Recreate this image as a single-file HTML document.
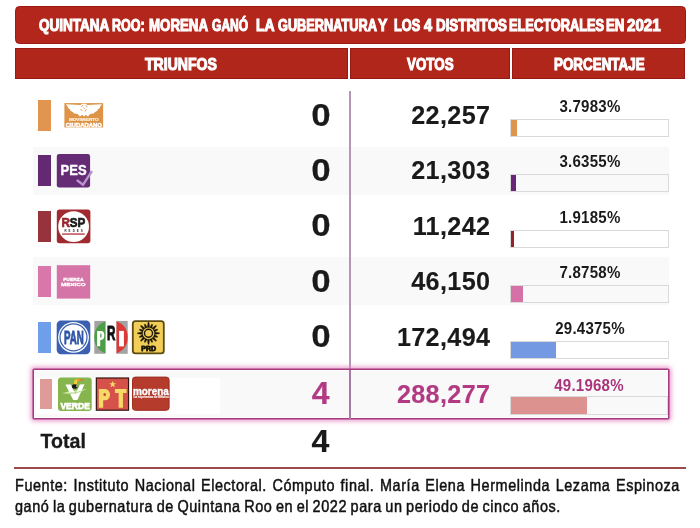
<!DOCTYPE html>
<html>
<head>
<meta charset="utf-8">
<title>Quintana Roo 2021</title>
<style>
html,body{margin:0;padding:0;background:#fff;}
body{width:700px;height:528px;position:relative;overflow:hidden;font-family:"Liberation Sans",sans-serif;color:#1a1a1a;}
.abs{position:absolute;}
.banner{left:15px;top:6px;width:669px;height:36px;background:#b3261c;border:1px solid #9b1b13;border-radius:4.5px;}
.hd{top:48px;height:31px;background:#b0261b;box-shadow:inset 0 0 0 1px #961a12;}
.cond{position:absolute;white-space:nowrap;color:#fff;font-weight:bold;transform-origin:0 0;-webkit-text-stroke:1.3px #fff;}
.tw{top:15.6px;font-size:17px;line-height:20px;-webkit-text-stroke:1.15px #fff;}
.band{left:32.7px;width:636.3px;height:47.6px;background:#f9f9f9;}
.sw{left:38px;width:13px;height:31px;}
.num{position:absolute;white-space:nowrap;font-weight:bold;font-size:25.2px;line-height:26px;letter-spacing:0.35px;text-align:right;-webkit-text-stroke:0.12px currentColor;}
.tri{letter-spacing:0;font-size:32px;line-height:30px;transform:scaleX(1.0);transform-origin:50% 0;-webkit-text-stroke:0.2px currentColor;}
.pct{position:absolute;white-space:nowrap;font-weight:bold;font-size:16px;line-height:15px;letter-spacing:0.25px;transform:scaleX(0.94);transform-origin:50% 0;left:510px;width:160px;text-align:center;}
.bar{left:510.3px;width:158.5px;height:18.4px;border:1.5px solid #d9d9d9;box-sizing:border-box;}
.bar i{position:absolute;left:0;top:0;bottom:0;display:block;}
.vline{left:349px;top:90.5px;width:2px;height:279px;background:#b596b6;}
.foot{position:absolute;left:14.5px;top:474px;font-size:16.5px;-webkit-text-stroke:0.5px #111;line-height:20px;white-space:nowrap;color:#111;transform-origin:0 0;}
</style>
</head>
<body>
<div id="wrap" style="position:absolute;left:0;top:0;width:700px;height:528px;will-change:transform;">

<!-- title banner -->
<div class="abs banner"></div>
<!--TITLE_START-->
<div class="cond tw" style="left:38.78px;transform:scaleX(0.7945);">QUINTANA</div>
<div class="cond tw" style="left:112.32px;transform:scaleX(0.7349);">ROO:</div>
<div class="cond tw" style="left:148.57px;transform:scaleX(0.7807);">MORENA</div>
<div class="cond tw" style="left:211.52px;transform:scaleX(0.7101);">GAN&Oacute;</div>
<div class="cond tw" style="left:255.73px;transform:scaleX(0.8179);">LA</div>
<div class="cond tw" style="left:277.90px;transform:scaleX(0.7494);">GUBERNATURA</div>
<div class="cond tw" style="left:377.88px;transform:scaleX(0.8264);">Y</div>
<div class="cond tw" style="left:394.31px;transform:scaleX(0.7477);">LOS</div>
<div class="cond tw" style="left:424.20px;transform:scaleX(0.8575);">4</div>
<div class="cond tw" style="left:435.97px;transform:scaleX(0.7856);">DISTRITOS</div>
<div class="cond tw" style="left:509.10px;transform:scaleX(0.7535);">ELECTORALES</div>
<div class="cond tw" style="left:606.37px;transform:scaleX(0.7792);">EN</div>
<div class="cond tw" style="left:627.33px;transform:scaleX(0.8870);">2021</div>
<!--TITLE_END-->

<!-- header cells -->
<div class="abs hd" style="left:15px;width:333px;"></div>
<div class="abs hd" style="left:350px;width:160px;"></div>
<div class="abs hd" style="left:512px;width:173px;"></div>
<div class="cond" id="h1" style="left:145.40px;top:54.8px;font-size:17px;line-height:20px;-webkit-text-stroke:1.15px #fff;transform:scaleX(0.8272);">TRIUNFOS</div>
<div class="cond" id="h2" style="left:407.30px;top:54.8px;font-size:17px;line-height:20px;-webkit-text-stroke:1.15px #fff;transform:scaleX(0.7863);">VOTOS</div>
<div class="cond" id="h3" style="left:554.26px;top:54.8px;font-size:17px;line-height:20px;-webkit-text-stroke:1.15px #fff;transform:scaleX(0.7883);">PORCENTAJE</div>

<!-- row bands -->
<div class="abs band" style="top:147px;"></div>
<div class="abs band" style="top:257.3px;"></div>

<!-- vertical separator -->
<div class="abs vline"></div>

<!-- ROWS inserted below -->
<div class="abs sw" style="top:100.0px;background:#e29550;"></div>
<div class="num tri" style="right:370.4px;top:99.6px;transform:scaleX(1.09);">0</div>
<div class="num" style="right:209.6px;top:102.2px;">22,257</div>
<div class="pct" style="top:99.2px;">3.7983%</div>
<div class="abs bar" style="top:118.8px;"><i style="width:5.6px;background:#e0954d;"></i></div>
<div class="abs sw" style="top:155.0px;background:#632a72;"></div>
<div class="num tri" style="right:370.4px;top:154.6px;transform:scaleX(1.09);">0</div>
<div class="num" style="right:209.6px;top:157.2px;">21,303</div>
<div class="pct" style="top:154.2px;">3.6355%</div>
<div class="abs bar" style="top:173.8px;"><i style="width:4.9px;background:#6a2478;"></i></div>
<div class="abs sw" style="top:210.7px;background:#97333a;"></div>
<div class="num tri" style="right:370.4px;top:210.3px;transform:scaleX(1.09);">0</div>
<div class="num" style="right:209.6px;top:212.9px;">11,242</div>
<div class="pct" style="top:209.9px;">1.9185%</div>
<div class="abs bar" style="top:229.5px;"><i style="width:2.7px;background:#96222c;"></i></div>
<div class="abs sw" style="top:266.2px;background:#d977ab;"></div>
<div class="num tri" style="right:370.4px;top:265.8px;transform:scaleX(1.09);">0</div>
<div class="num" style="right:209.6px;top:268.4px;">46,150</div>
<div class="pct" style="top:265.4px;">7.8758%</div>
<div class="abs bar" style="top:285.0px;"><i style="width:11.7px;background:#d571a6;"></i></div>
<div class="abs sw" style="top:321.7px;background:#6f9fea;"></div>
<div class="num tri" style="right:370.4px;top:321.3px;transform:scaleX(1.09);">0</div>
<div class="num" style="right:209.6px;top:323.9px;">172,494</div>
<div class="pct" style="top:320.9px;">29.4375%</div>
<div class="abs bar" style="top:340.5px;"><i style="width:44.8px;background:#7299e2;"></i></div>
<!-- highlighted row -->
<div class="abs" id="hl" style="left:33.2px;top:369px;width:635.5px;height:50px;box-sizing:border-box;border:1px solid #a43b83;border-radius:1px;background:#f9f9f9;box-shadow:0 0 0 0.55px #a43b83, 0 0 5px 2px rgba(232,130,192,0.85), inset 0 0 0 1px #fdfdfd;"></div>
<div class="abs" style="left:36px;top:377.5px;width:184px;height:36.5px;background:#fff;"></div>
<div class="abs" style="left:349px;top:370px;width:2px;height:48.5px;background:#a87aa4;"></div>
<div class="abs" style="left:39.8px;top:378.6px;width:12.2px;height:30.6px;background:#de9b98;"></div>
<div class="num tri" style="right:370.4px;top:378.3px;color:#b23a82;">4</div>
<div class="num" style="right:209.6px;top:381px;color:#b23a82;">288,277</div>
<div class="pct" style="top:378.0px;color:#a9347b;left:509px;">49.1968%</div>
<div class="abs bar" style="top:396.4px;left:509.5px;"><i style="width:76px;background:#dc928e;"></i></div>
<!-- total -->
<div class="abs" id="total" style="left:40.5px;top:429px;font-weight:bold;font-size:19.6px;line-height:24px;-webkit-text-stroke:0.3px #1a1a1a;">Total</div>
<div class="num tri" style="right:370.6px;top:426px;">4</div>
<!--LOGOS_START-->
<svg class="abs" style="left:0;top:0;" width="700" height="528" viewBox="0 0 700 528" font-family="Liberation Sans, sans-serif" font-weight="bold">
<defs>
<clipPath id="priL"><rect x="94.3" y="320.9" width="11.2" height="32.9"/></clipPath>
<clipPath id="priR"><rect x="116.5" y="320.9" width="11.2" height="32.9"/></clipPath>
<linearGradient id="beak" x1="0" y1="0" x2="1" y2="0"><stop offset="0" stop-color="#f0b030"/><stop offset="0.5" stop-color="#ee8a28"/><stop offset="1" stop-color="#d8452a"/></linearGradient>
</defs>

<!-- Movimiento Ciudadano -->
<g id="mc">
<rect x="64.4" y="103.1" width="38.7" height="24.3" fill="#dd9447"/>
<path d="M65.8,104.2 L80.6,105 L81.8,103.8 L86,103.8 L87.2,105 L102,104.2 L99.6,107.2 L100.4,107.6 L97.2,110 L97.8,110.6 L94.2,112.4 L94.4,113.2 L90.2,114 L88,116.4 L85.4,114.8 L84,116.8 L82.4,114.8 L79.8,116.4 L77.6,114 L73.4,113.2 L73.6,112.4 L70,110.6 L70.6,110 L67.4,107.6 L68.2,107.2 Z" fill="#fff"/>
<path d="M81.4,106.6 l1.8,-1.5 M85.9,105.3 l1.3,2 M80.4,109.4 l2.2,1.5 M86.4,109.2 l-1.5,2.4 M83.2,107.6 l1.4,1" stroke="#dd9447" stroke-width="0.9" fill="none"/>
<text x="68.9" y="120.9" font-size="3.4" fill="#fdf1e4" stroke="#fdf1e4" stroke-width="0.15" textLength="29.8" lengthAdjust="spacingAndGlyphs">MOVIMIENTO</text>
<text x="65.8" y="126.75" font-size="5.2" fill="#fff" stroke="#fff" stroke-width="0.4" textLength="36" lengthAdjust="spacingAndGlyphs">CIUDADANO</text>
</g>

<!-- PES -->
<g id="pes">
<rect x="56.8" y="154" width="33.3" height="33.6" rx="2.4" fill="#652b74"/>
<text x="60.6" y="175.4" font-size="15.4" fill="#fff" stroke="#fff" stroke-width="0.4" textLength="26" lengthAdjust="spacingAndGlyphs">PES</text>
<path d="M76.8,180 L83,184.8 L92,171" stroke="#b893cc" stroke-width="2.4" fill="none" stroke-linejoin="miter"/>
</g>

<!-- RSP -->
<g id="rsp">
<rect x="56.8" y="209.4" width="33.6" height="33.8" rx="2.6" fill="#a02a30"/>
<circle cx="73.6" cy="226.6" r="15.4" fill="#fff"/>
<text x="61.4" y="227.2" font-size="12.8" textLength="24" lengthAdjust="spacingAndGlyphs" fill="#1c1c1c" stroke="#1c1c1c" stroke-width="0.7"><tspan fill="#9a262c" stroke="#9a262c">R</tspan>SP</text>
<text x="64.4" y="232.3" font-size="2.9" fill="#222" textLength="18.4" lengthAdjust="spacing">REDES</text>
<rect x="62" y="233.4" width="22.8" height="1.3" fill="#b5333c"/>
</g>

<!-- Fuerza por Mexico -->
<g id="fxm">
<rect x="56.8" y="265.2" width="33.4" height="33.4" fill="#d574a6"/>
<text x="63.2" y="280.7" font-size="4.3" fill="#fff" stroke="#fff" stroke-width="0.3" textLength="20.4" lengthAdjust="spacingAndGlyphs">FUERZA</text>
<text x="61" y="286.1" font-size="4.3" fill="#fff" stroke="#fff" stroke-width="0.3" textLength="24.6" lengthAdjust="spacingAndGlyphs">ME&#x2715;ICO</text>
</g>

<!-- PAN -->
<g id="pan">
<rect x="56.7" y="320.4" width="33.6" height="33.9" rx="4.2" fill="#3b60b2"/>
<circle cx="73.5" cy="337.3" r="15.4" fill="#fff"/>
<circle cx="73.5" cy="337.3" r="13.5" fill="none" stroke="#3b60b2" stroke-width="1.25"/>
<text x="63.9" y="343.5" font-size="17.6" fill="#2f55a8" stroke="#2f55a8" stroke-width="0.9" textLength="19.8" lengthAdjust="spacingAndGlyphs">PAN</text>
</g>

<!-- PRI -->
<g id="pri">
<rect x="94.3" y="320.9" width="11.2" height="32.9" fill="#a3a3a3"/>
<rect x="105.5" y="320.9" width="11" height="32.9" fill="#fff"/>
<rect x="116.5" y="320.9" width="11.2" height="32.9" fill="#a3a3a3"/>
<circle cx="111" cy="337.35" r="17" fill="#4e9d48" clip-path="url(#priL)"/>
<circle cx="111" cy="337.35" r="17" fill="#d93a36" clip-path="url(#priR)"/>
<path d="M97.1,331.1 H101 a3.3,4.4 0 0 1 0,8.8 H100.2 V346.2 H97.1 Z" fill="#fff"/><rect x="100.2" y="333.5" width="1.3" height="4" rx="0.6" fill="#4e9d48"/>
<text transform="translate(106.9,339.6) scale(0.6,1)" font-size="19.4" fill="#111" stroke="#111" stroke-width="1">R</text>
<rect x="119.1" y="330.9" width="4.8" height="15.5" fill="#fff"/>
</g>

<!-- PRD -->
<g id="prd">
<rect x="132.8" y="321.2" width="31" height="32.1" rx="2.6" fill="#f1ce58" stroke="#5c4c12" stroke-width="1.8"/>
<g fill="#1a1608" stroke="#1a1608" stroke-width="0.3" stroke-linejoin="round">
<polygon points="149.70,327.40 149.00,322.30 148.00,322.30 147.30,327.40"/>
<polygon points="151.87,328.31 152.71,324.44 151.79,324.05 149.65,327.39"/>
<polygon points="153.52,329.98 156.63,325.88 155.92,325.17 151.82,328.28"/>
<polygon points="154.41,332.15 157.75,330.01 157.36,329.09 153.49,329.93"/>
<polygon points="154.40,334.50 159.50,333.80 159.50,332.80 154.40,332.10"/>
<polygon points="153.49,336.67 157.36,337.51 157.75,336.59 154.41,334.45"/>
<polygon points="151.82,338.32 155.92,341.43 156.63,340.72 153.52,336.62"/>
<polygon points="149.65,339.21 151.79,342.55 152.71,342.16 151.87,338.29"/>
<polygon points="147.30,339.20 148.00,344.30 149.00,344.30 149.70,339.20"/>
<polygon points="145.13,338.29 144.29,342.16 145.21,342.55 147.35,339.21"/>
<polygon points="143.48,336.62 140.37,340.72 141.08,341.43 145.18,338.32"/>
<polygon points="142.59,334.45 139.25,336.59 139.64,337.51 143.51,336.67"/>
<polygon points="142.60,332.10 137.50,332.80 137.50,333.80 142.60,334.50"/>
<polygon points="143.51,329.93 139.64,329.09 139.25,330.01 142.59,332.15"/>
<polygon points="145.18,328.28 141.08,325.17 140.37,325.88 143.48,329.98"/>
<polygon points="147.35,327.39 145.21,324.05 144.29,324.44 145.13,328.31"/>
</g>
<circle cx="148.5" cy="333.3" r="4" fill="#f1ce58" stroke="#1a1608" stroke-width="1.4"/>
<text x="141.3" y="351.4" font-size="6.9" fill="#1a1608" stroke="#1a1608" stroke-width="0.85" stroke-linejoin="round" textLength="14.8" lengthAdjust="spacingAndGlyphs">PRD</text>
</g>

<!-- Verde -->
<g id="verde">
<rect x="58" y="377.4" width="33.7" height="33.6" rx="3.2" fill="#86b44d"/>
<path d="M62,393.2 C69,390.6 79,390.4 86.8,388.9 C80,392.8 70,394.6 62,393.2 Z" fill="#cfe7a6"/>
<path d="M65.4,384.6 L70.8,384.4 L75.4,394.2 L79.8,384.4 L84.5,384.3 L77.4,400 L73.2,400 Z" fill="#fff"/>
<path d="M69.5,392.6 C74,392.4 80,391.4 85.4,389.4 C80.6,392.2 75,393.6 70.2,394 Z" fill="#a9d47a" opacity="0.85"/>
<path d="M74.3,384.6 C73.4,381.6 74.6,379.4 76.6,379.2 L78,381 C76.8,382 76.8,383.4 77.2,384.8 Z" fill="#f1cb3c"/>
<path d="M76,379.6 C78.4,377.6 81.8,378.2 83.6,381.7 C81.4,380.2 79.2,380.3 77.6,381.6 Z" fill="url(#beak)"/>
<ellipse cx="74.7" cy="386.6" rx="2.8" ry="2.25" fill="#1b1b16"/>
<rect x="76.2" y="385.4" width="1.2" height="1.4" fill="#e9e9d8"/>
<text x="60.4" y="409.4" font-size="9.7" fill="#fff" stroke="#fff" stroke-width="0.75" stroke-linejoin="round" textLength="29.6" lengthAdjust="spacingAndGlyphs">VERDE</text>
</g>

<!-- PT -->
<g id="pt">
<rect x="96.35" y="378" width="32.2" height="32.2" fill="#d5514a" stroke="#34140f" stroke-width="1.2"/>
<path d="M98.8,389.1 H105.2 a4.8,5.6 0 0 1 0,11.2 H103.2 V407.8 H98.8 Z" fill="#f8d968"/><ellipse cx="104.7" cy="394.6" rx="1.3" ry="1.5" fill="#c9443c"/>
<path d="M114.9,389.1 H126.6 V392.9 H122.95 V407.8 H118.65 V392.9 H114.9 Z" fill="#f8d968"/>
<path d="M112.70,380.80 L113.58,383.19 L116.12,383.29 L114.13,384.86 L114.82,387.31 L112.70,385.90 L110.58,387.31 L111.27,384.86 L109.28,383.29 L111.82,383.19 Z" fill="#f8d968"/>
</g>

<!-- Morena -->
<g id="morena">
<rect x="132.5" y="377.1" width="36.6" height="33.2" rx="2.8" fill="#b53b2c" stroke="#9e2c20" stroke-width="1"/>
<text x="132.9" y="394.8" font-size="10.6" fill="#fff" stroke="#fff" stroke-width="0.35" textLength="36" lengthAdjust="spacingAndGlyphs">morena</text>
<text x="133.4" y="398" font-size="2.6" fill="#f8e3e0" stroke="#f8e3e0" stroke-width="0.15" textLength="35.4" lengthAdjust="spacingAndGlyphs">La esperanza de M&#233;xico</text>
</g>
</svg>
<!--LOGOS_END-->

<!-- footer -->
<div class="abs" style="left:14px;top:467px;width:672px;height:2px;background:#9a4a48;"></div>
<!--FOOT1-->
<div class="foot" id="f1" style="top:475.1px;transform:scaleX(0.874);letter-spacing:0.66px;word-spacing:1.1px;">Fuente: Instituto Nacional Electoral. C&oacute;mputo final. Mar&iacute;a Elena Hermelinda Lezama Espinoza</div>
<div class="foot" id="f2" style="top:496.4px;transform:scaleX(0.876);letter-spacing:0.66px;word-spacing:-1.25px;">gan&oacute; la gubernatura de Quintana Roo en el 2022 para un periodo de cinco a&ntilde;os.</div>
<!--FOOTEND-->

</div>
</body>
</html>
